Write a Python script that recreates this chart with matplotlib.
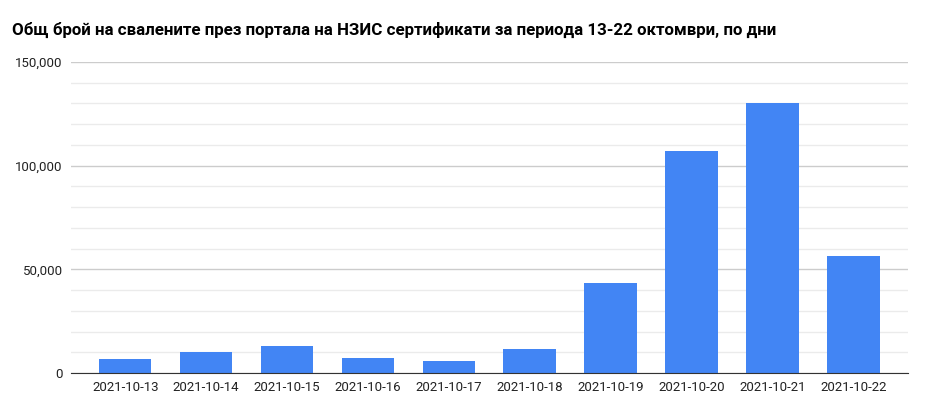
import matplotlib
matplotlib.use("Agg")
import matplotlib.pyplot as plt
from matplotlib.ticker import MultipleLocator, FuncFormatter

# daily downloads of certificates via the NZIS portal
dates = ["2021-10-13", "2021-10-14", "2021-10-15", "2021-10-16", "2021-10-17",
         "2021-10-18", "2021-10-19", "2021-10-20", "2021-10-21", "2021-10-22"]
downloads = [6700, 10100, 13100, 7200, 5800, 11600, 43400, 106900, 130400, 56400]

title = "Общ брой на свалените през портала на НЗИС сертификати за периода 13-22 октомври, по дни"

plt.rcParams["font.family"] = ["Roboto", "DejaVu Sans"]

fig = plt.figure(figsize=(9.28, 4.15), dpi=100)
ax = fig.add_axes([0.0765, 0.1012, 0.9015, 0.7494])

x = list(range(len(dates)))
ax.bar(x, downloads, width=0.65, color="#4285F4", zorder=3)

ax.set_xlim(-0.67, 9.67)
ax.set_ylim(0, 150000)
ax.yaxis.set_major_locator(MultipleLocator(50000))
ax.yaxis.set_minor_locator(MultipleLocator(10000))
ax.yaxis.set_major_formatter(FuncFormatter(lambda v, _: f"{int(v):,}"))
ax.grid(axis="y", which="major", color="#cccccc", lw=1, zorder=0)
ax.grid(axis="y", which="minor", color="#ebebeb", lw=1, zorder=0)

ax.set_xticks(x)
ax.set_xticklabels(dates)
ax.tick_params(axis="both", which="both", length=0, labelsize=9.5, colors="#222222")
ax.tick_params(axis="x", pad=6)
ax.tick_params(axis="y", pad=6)

for side in ("top", "right", "left"):
    ax.spines[side].set_visible(False)
ax.spines["bottom"].set_color("#333333")
ax.spines["bottom"].set_zorder(4)

fig.text(0.013, 0.927, title, fontsize=12.2, fontweight="bold", color="#000000",
         ha="left", va="center")

fig.savefig("out.png", dpi=100)
